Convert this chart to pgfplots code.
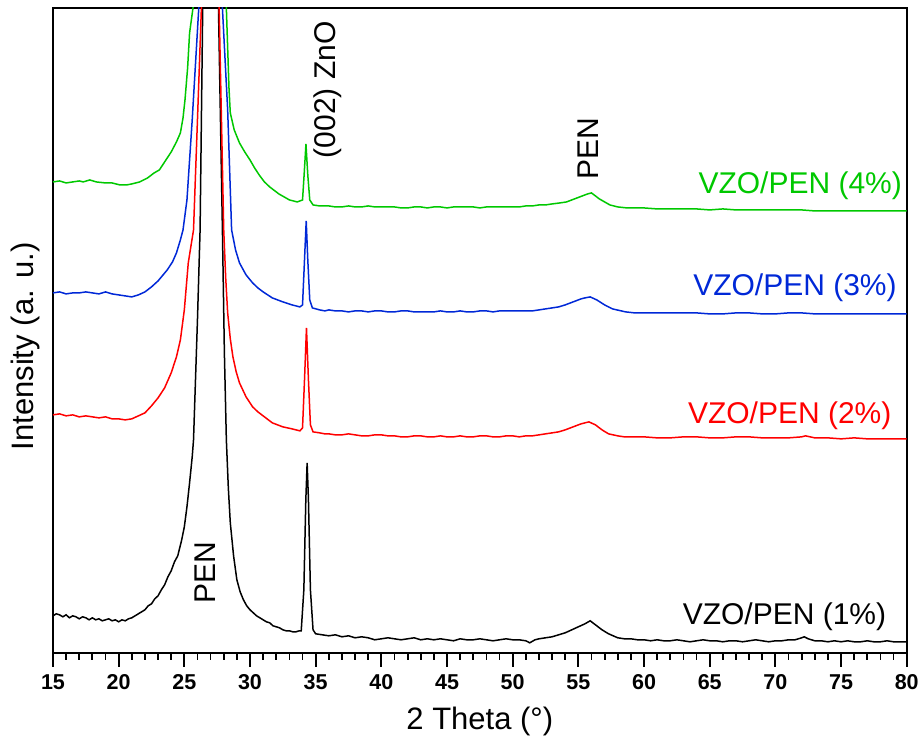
\documentclass[border=0pt]{standalone}
\usepackage{fontspec}
\setmainfont{Liberation Sans}
\usepackage{pgfplots}
\pgfplotsset{compat=1.18}
\definecolor{cgreen}{RGB}{0,200,0}
\definecolor{cblue}{RGB}{0,40,215}
\definecolor{cred}{RGB}{255,0,0}
\begin{document}
\begin{tikzpicture}
\begin{axis}[
  name=ax,
  width=854pt, height=645pt, scale only axis,
  xmin=15, xmax=80, ymin=0, ymax=645,
  xtick={15,20,...,80}, minor x tick num=4,
  ytick=\empty,
  xtick pos=lower, tick align=outside,
  major tick length=14pt, minor tick length=7pt,
  axis line style={line width=2pt},
  every tick/.style={line width=1.8pt, black},
  /pgf/number format/assume math mode=true,
  xticklabel style={font=\fontsize{21.5}{25}\selectfont\bfseries, yshift=-4pt},
  xlabel={2 Theta (°)},
  ylabel={Intensity (a. u.)},
  label style={font=\fontsize{31}{37}\selectfont},
  xlabel style={yshift=-11pt},
  ylabel style={yshift=-4pt, xshift=-16pt},
  clip mode=individual,
]
% black 1%
\addplot[black, line width=1.5pt] coordinates {
(15.0,37)(15.25,39)(15.5,38)(15.75,36)(16.0,38)(16.25,35)(16.5,37)(16.75,36)(17.0,34)(17.25,36)
(17.5,35)(17.75,33)(18.0,35)(18.25,33)(18.5,34)(18.75,32)(19.0,33)(19.25,34)(19.5,32)(19.75,33)
(20.0,31)(20.25,33)(20.5,32)(20.75,34)(21.0,35)(21.25,37)(21.5,39)(21.75,41)(22.0,43)(22.25,47)
(22.5,49)(22.75,54)(23.0,57)(23.25,63)(23.5,68)(23.75,76)(24.0,82)(24.25,91)(24.5,97)
(24.8,113)(25.0,126)(25.2,146)(25.4,170)(25.6,196)(25.7,213)(26.0,333)(26.2,423)(26.4,645)(27.0,1300)(27.6,645)
(27.9,423)(28.05,300)(28.2,213)(28.35,165)(28.5,130)(28.75,97)(29.0,73)(29.25,61)(29.5,53)(29.75,47)(30.0,43)(30.25,40)(30.5,37)(30.75,35)(31.0,33)(31.25,31)(31.5,30)(31.75,27)(32.0,26)
(32.25,25)(32.5,23)(32.75,22)(33.0,22)(33.25,21)(33.5,21)(33.75,22)(33.9,22)(34.1,63)(34.25,153)(34.35,190)(34.45,153)(34.6,63)(34.8,23)
(35.0,19)(35.5,18)(36,17)(36.5,18)(37,16)(37.5,17)(38,15)(38.5,16)(39,15)(39.5,13)(40,14)(40.5,15)
(41,14)(41.5,13)(42,14)(42.5,15)(43,13)(43.5,14)(44,13)(44.5,14)(45,13)(45.5,12)(46,14)(46.5,13)
(47,13)(47.5,14)(48,13)(48.5,12)(49,13)(49.5,14)(50,13)(50.5,13)(51,12)(51.3,10)(51.7,13)(52,14)
(52.5,15)(53,16)(53.5,18)(54,20)(54.5,23)(55,26)(55.5,29)(55.9,32)(56.3,28)(56.8,23)(57.3,19)
(58,15)(58.5,14)(59,14)(59.5,13)(60,13)(60.5,12)(61,13)(61.5,12)(62,12)(62.5,13)(63,12)(63.5,11)
(64,12)(64.5,13)(65,12)(65.5,12)(66,11)(66.5,12)(67,12)(67.5,11)(68,12)(68.5,13)(69,12)(69.5,11)
(70,12)(70.5,12)(71,13)(71.5,13)(72,15)(72.2,16)(72.5,14)(73,12)(73.5,12)(74,11)(74.5,12)(75,11)
(75.5,12)(76,11)(76.5,11)(77,12)(77.5,11)(78,11)(78.5,12)(79,11)(79.5,11)(80,11)
};
% red 2%
\addplot[cred, line width=1.5pt] coordinates {
(15.0,238)(15.5,239)(16.0,237)(16.5,238)(17.0,236)(17.5,237)(18.0,236)(18.5,235)(19.0,236)(19.5,234)
(20.0,234)(20.5,233)(21.0,234)(21.5,237)(22.0,240)(22.5,247)(23.0,255)(23.5,265)(24.0,280)(24.4,296)
(24.7,313)(25.0,343)(25.3,390)(25.7,423)(26.0,533)(26.3,645)(27.0,1200)(27.65,645)(28.0,423)
(28.15,375)(28.3,340)(28.5,314)(28.7,296)(28.95,281)(29.2,270)(29.7,256)(30.2,246)(30.6,241)(31.0,237)(31.7,230)(32.5,226)(33.2,224)
(33.8,222)(34.0,225)(34.15,273)(34.3,325)(34.45,273)(34.6,228)(34.8,221)(35.3,220)(35.7,219)(36,219)(36.5,218)
(37,218)(37.5,219)(38,218)(38.5,217)(39,217)(39.5,218)(40,218)(40.5,217)(41,217)(41.5,216)(42,216)(42.5,217)(43,217)(43.5,216)(44,216)(44.5,217)(45,216)(45.5,216)(46,217)(46.5,216)(47,216)(47.5,217)(48,217)
(48.5,216)(49,216)(49.5,217)(50,217)(50.5,216)(51,217)(51.5,217)(52,218)(52.5,219)(53,220)(53.5,221)(54,223)(54.4,225)(54.8,227)(55.2,229)(55.5,230)(55.8,231)(56.3,228)(56.8,223)
(57.3,219)(58,217)(58.5,216)(59,216)(60,216)(61,215)(62,215)(63,216)(64,216)(65,215)(66,215)(67,216)(68,216)(69,215)(70,215)(71,215)(72,216)(72.3,217)(73,215)
(74,215)(75,214)(76,215)(77,214)(78,214)(79,214)(80,214)
};
% blue 3%
\addplot[cblue, line width=1.5pt] coordinates {
(15,360)(15.5,361)(16,359)(16.5,360)(17,360)(17.5,361)(18,360)(18.5,359)(19,361)(19.5,359)
(20,358)(20.5,357)(21,356)(21.5,358)(22,361)(22.5,366)(23,372)(23.7,383)(24.1,391)(24.4,400)
(24.7,413)(24.9,423)(25.2,453)(25.6,533)(26.1,645)(27.0,1100)(27.9,645)(28.3,543)(28.6,423)
(28.9,403)(29.2,390)(29.7,378)(30.2,370)(30.6,365)(31.0,361)(31.7,355)(32.5,351)(33.2,348)(33.8,346)
(34.0,348)(34.15,393)(34.28,432)(34.4,393)(34.55,353)(34.75,345)(35.3,343)(35.7,342)(36,343)(36.5,342)(37,342)
(37.5,341)(38,342)(38.5,342)(39,341)(39.5,342)(40,342)(40.5,341)(41,341)(41.5,342)(42,342)(42.5,341)(43,341)(43.5,341)(44,341)(44.5,342)(45,341)(45.5,341)(46,342)(46.5,341)(47,341)(47.5,342)(48,342)(48.5,341)(49,342)
(49.5,342)(50,342)(50.5,342)(51,342)(51.5,342)(52,343)(52.5,344)(53,345)(53.5,346)(54,348)(54.4,350)(54.8,352)(55.2,354)(55.5,355)(55.9,356)(56.4,353)(57,348)
(57.6,344)(58.6,341)(59.3,340)(60,340)(61,340)(62,340)(63,340)(64,340)(65,339)(66,339)(67,340)(68,340)(69,339)(70,339)(71,340)(72,340)(73,339)(74,339)(75,339)(76,339)
(77,339)(78,339)(79,339)(80,339)
};
% green 4%
\addplot[cgreen, line width=1.5pt] coordinates {
(15,471)(15.5,472)(16,470)(16.5,471)(17,472)(17.3,471)(17.8,473)(18.3,471)(19,470)(19.5,470)
(20.1,468)(20.6,468)(21,469)(21.6,471)(22.2,475)(22.7,480)(23.1,483)(23.6,493)(24.0,501)
(24.4,511)(24.7,520)(24.9,535)(25.05,553)(25.25,585)(25.4,620)(25.66,645)(27.0,1000)(28.2,645)(28.3,605)(28.4,565)(28.5,540)(28.8,523)(29.2,510)
(29.6,501)(30.0,493)(30.35,485)(30.7,478)(31.1,471)(31.5,466)(32.2,459)(32.6,456)(33.0,453)(33.6,451)(34.0,453)(34.12,478)(34.26,509)
(34.4,478)(34.55,453)(34.8,448)(35.3,447)(35.7,447)(36,447)(36.5,446)(37,446)(37.5,447)(38,446)(38.5,446)(39,447)(39.5,446)(40,446)(40.5,446)(41,446)
(41.5,445)(42,445)(42.5,446)(43,446)(43.5,445)(44,446)(44.5,446)(45,445)(45.5,446)(46,446)(46.5,446)(47,446)(47.5,445)(48,446)(48.5,446)(49,446)(49.5,446)(50,446)(50.5,446)(51,447)(51.5,447)(52,448)
(52.5,448)(53,449)(53.6,450)(54.1,451)(54.5,453)(54.9,455)(55.3,457)(55.7,459)(56.0,460)(56.3,457)(56.6,454)(57.0,451)(57.4,448)(58.0,446)(58.7,445)(59.3,445)(60,445)(61,444)(62,444)
(63,444)(64,444)(65,443)(66,444)(67,443)(68,443)(69,443)(70,443)(71,443)(72,443)(73,442)(74,442)(75,442)(76,442)(77,442)(78,442)(79,442)(80,442)
};
\node[rotate=90, font=\fontsize{30}{36}\selectfont] at (axis cs:35.95,563) {(002) ZnO};
\node[rotate=90, font=\fontsize{30}{36}\selectfont] at (axis cs:55.72,504) {PEN};
\node[rotate=90, font=\fontsize{30}{36}\selectfont] at (axis cs:26.57,80) {PEN};
\node[anchor=east, text=cgreen, font=\fontsize{30}{36}\selectfont] at (axis cs:79.9,467) {VZO/PEN (4\%)};
\node[anchor=east, text=cblue, font=\fontsize{30}{36}\selectfont] at (axis cs:79.5,365) {VZO/PEN (3\%)};
\node[anchor=east, text=cred, font=\fontsize{30}{36}\selectfont] at (axis cs:79.1,237) {VZO/PEN (2\%)};
\node[anchor=east, text=black, font=\fontsize{30}{36}\selectfont] at (axis cs:78.7,36) {VZO/PEN (1\%)};
\end{axis}
\path ([shift={(-53pt,-91pt)}]ax.south west) rectangle ([shift={(15pt,8pt)}]ax.north east);
\end{tikzpicture}
\end{document}
